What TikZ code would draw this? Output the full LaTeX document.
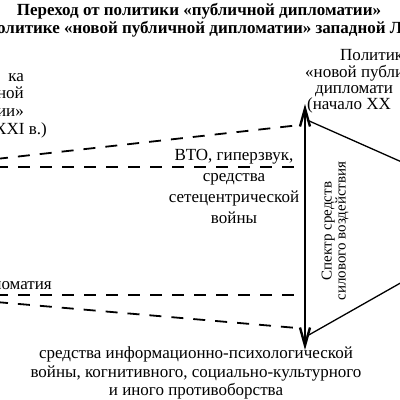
\documentclass[tikz,border=0pt]{standalone}
\usepackage{fontspec}
\setmainfont{Liberation Serif}
\usetikzlibrary{positioning,arrows.meta}

\begin{document}
\begin{tikzpicture}[
    x=1pt, y=-1pt,
    every node/.style = {font=\fontsize{17}{17.5}\selectfont, inner sep=0pt},
    head/.style       = {font=\fontsize{17}{18}\selectfont\bfseries, anchor=base},
    txt/.style        = {align=center},
    dashline/.style   = {line width=1.8pt, dash pattern=on 12pt off 10pt},
    spec/.style       = {line width=2.4pt,
                         {Straight Barb[length=18pt,width=10pt]}-{Straight Barb[length=18pt,width=10pt]}},
    side/.style       = {line width=1.3pt},
]
\useasboundingbox (0,0) rectangle (400,400);
\clip (0,0) rectangle (400,400);

% Title (cut at the frame)
\node[head] (T1) at (199,15) {Переход от политики «публичной дипломатии»};
\node[head, anchor=base west] (T2) at (-3,33) {олитике «новой публичной дипломатии» западной Л};

% Left block: public diplomacy (base = last line)
\node[align=right, anchor=base east] (PD) at (24,116) {ка\\ной\\тии»};
\node[anchor=base east] (PDd) at (47,134) {XXI в.)};
\node[anchor=base east] (PDl) at (52,289) {ломатия};

% Right block: new public diplomacy
\foreach \x/\y/\t [count=\k] in {340/60/Политик, 305/77/«новой публи, 315/93/дипломати, 307/109/(начало XX} {
    \node[anchor=base west] (NPD\k) at (\x,\y) {\t};
}

% Spectrum of force
\coordinate (sTop) at (305,104);
\coordinate (sBot) at (305,350);
\coordinate (jTop) at (307,120);
\coordinate (jBot) at (307,336);
\coordinate (rTop) at (404,163);
\coordinate (rBot) at (404,281);
\draw[spec] (sBot) -- (sTop);
\draw[side] (jTop) -- (rTop);
\draw[side] (jBot) -- (rBot);
\node[txt, rotate=90, font=\fontsize{15}{14}\selectfont] (SP) at (335,231)
    {Спектр средств\\силового воздействия};

% Dashed lines toward the spectrum
\coordinate (dA0) at (-4,159);  \coordinate (dA1) at (300,125);
\coordinate (dB0) at (-4,167);  \coordinate (dB1) at (300,167);
\coordinate (dC0) at (-4,295);  \coordinate (dC1) at (296,295);
\coordinate (dD0) at (-4,302);  \coordinate (dD1) at (297,328);
\foreach \a in {A,B,C,D} {
    \draw[dashline] (d\a0) -- (d\a1);
}

% Means at both ends
\node[txt, font=\fontsize{17}{21}\selectfont] (HI) at (234,186)
    {ВТО, гиперзвук,\\средства\\сетецентрической\\войны};
\node[txt, font=\fontsize{17}{18.5}\selectfont] (LO) at (196,373)
    {средства информационно-психологической\\войны, когнитивного, социально-культурного\\и иного противоборства};

\end{tikzpicture}
\end{document}
